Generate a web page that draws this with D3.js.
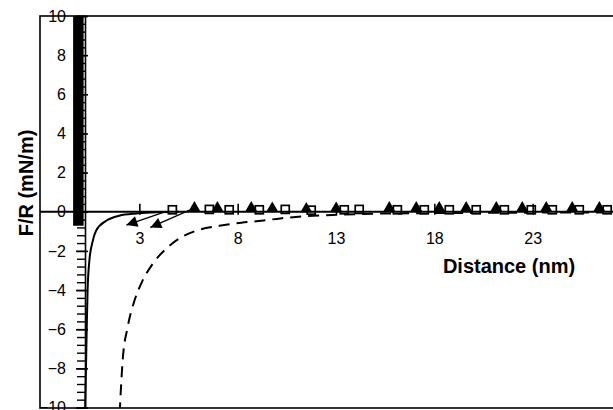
<!DOCTYPE html>
<html>
<head>
<meta charset="utf-8">
<script src="https://cdn.jsdelivr.net/npm/d3@7"></script>
<style>
  body { margin: 0; background: #fff; }
  svg { display: block; font-family: "Liberation Sans", Arial, sans-serif; }
</style>
</head>
<body>
<svg width="613" height="410"></svg>
<script>
// values (distance in nm, F/R in mN/m)
var xTicks = [3, 8, 13, 18, 23];
var yTicks = [-10, -8, -6, -4, -2, 0, 2, 4, 6, 8, 10];

// hard wall at contact
var wallX = [-0.1, -0.1];
var wallY = [10.2, -0.72];

// solid curve
var solidX = [0.24, 0.25, 0.32, 0.37, 0.46, 0.63, 0.8, 1.32, 1.98, 2.85, 3.6, 5];
var solidY = [-10.3, -9.9, -6.2, -4.0, -2.5, -1.5, -0.97, -0.46, -0.2, -0.09, -0.04, 0];

// dashed curve
var dashX = [2.0, 2.15, 2.40, 2.75, 3.09, 3.68, 4.36, 5.12, 5.88, 7.07, 8.19, 9.2, 10.17, 11.39, 13.17, 15, 18, 22, 28];
var dashY = [-10.3, -7.62, -5.92, -4.55, -3.68, -2.66, -1.89, -1.31, -0.97, -0.72, -0.56, -0.46, -0.34, -0.23, -0.15, -0.1, -0.07, -0.05, -0.03];

// open squares
var sqX = [4.68, 6.56, 7.57, 9.10, 10.42, 11.74, 13.42, 14.18, 16.12, 17.49, 18.76, 20.13, 21.56, 22.93, 24.0, 25.37, 26.79];
var sqY = [0.1, 0.12, 0.1, 0.1, 0.12, 0.08, 0.1, 0.12, 0.1, 0.1, 0.1, 0.1, 0.1, 0.1, 0.1, 0.1, 0.1];

// filled triangles
var triX = [5.80, 6.97, 8.69, 9.76, 11.49, 13.01, 15.71, 17.08, 18.25, 19.62, 21.15, 22.47, 23.69, 25.01, 26.39];
var triY = [0.2, 0.2, 0.2, 0.18, 0.15, 0.18, 0.2, 0.2, 0.2, 0.2, 0.2, 0.2, 0.2, 0.2, 0.2];

// two arrows (from -> to)
var arrowFromX = [4.37, 5.64];
var arrowFromY = [0.02, 0.12];
var arrowToX = [2.34, 3.56];
var arrowToY = [-0.68, -0.8];

var svg = d3.select("svg");

var x = d3.scaleLinear().domain([-2, 28]).range([41, 631]);
var y = d3.scaleLinear().domain([-10, 10]).range([407.5, 16]);

var defs = svg.append("defs");
defs.append("clipPath").attr("id", "plot")
  .append("rect").attr("x", 41).attr("y", 16).attr("width", 590).attr("height", 391.5);
defs.append("marker")
  .attr("id", "head")
  .attr("viewBox", "0 0 10 10")
  .attr("refX", 10).attr("refY", 5)
  .attr("markerWidth", 20).attr("markerHeight", 11)
  .attr("markerUnits", "userSpaceOnUse")
  .attr("orient", "auto")
  .append("path").attr("d", "M0,0L10,5L0,10Z").attr("fill", "#000");

// frame
svg.append("rect")
  .attr("x", 40).attr("y", 16)
  .attr("width", 600).attr("height", 392)
  .attr("fill", "none").attr("stroke", "#000").attr("stroke-width", 1.6);

var g = svg.append("g").attr("clip-path", "url(#plot)");

// x axis at y = 0
var xAxis = svg.append("g")
  .attr("transform", "translate(0," + y(0) + ")")
  .call(d3.axisBottom(x).tickValues(xTicks).tickSize(3).tickPadding(18).tickFormat(d3.format("d")));
xAxis.select(".domain").remove();
xAxis.selectAll(".tick line").attr("y1", -8).attr("stroke-width", 1.6);
xAxis.selectAll("text").attr("font-size", 16).attr("fill", "#000");
svg.append("line")
  .attr("x1", 40).attr("x2", 613)
  .attr("y1", y(0)).attr("y2", y(0))
  .attr("stroke", "#000").attr("stroke-width", 2.2);

// y axis, minor ticks first
var yPos = 85;
var minor = d3.range(-10, 10.01, 0.4).map(function (d) { return Math.round(d * 10) / 10; });
var yMinor = svg.append("g")
  .attr("transform", "translate(" + yPos + ",0)")
  .call(d3.axisLeft(y).tickValues(minor).tickSize(8).tickFormat(""));
yMinor.select(".domain").remove();
yMinor.selectAll(".tick line").attr("stroke-width", 1.4);

var yAxis = svg.append("g")
  .attr("transform", "translate(" + yPos + ",0)")
  .call(d3.axisLeft(y).tickValues(yTicks).tickSize(9).tickPadding(10).tickFormat(d3.format("d")));
yAxis.select(".domain").attr("stroke-width", 1.6);
yAxis.selectAll(".tick line").attr("x2", 3).attr("x1", -9).attr("stroke-width", 1.6);
yAxis.selectAll("text").attr("font-size", 16).attr("fill", "#000");

// wall
g.append("line")
  .attr("x1", x(wallX[0])).attr("x2", x(wallX[1]))
  .attr("y1", y(wallY[0])).attr("y2", y(wallY[1]))
  .attr("stroke", "#000").attr("stroke-width", 10.5);

var line = d3.line()
  .x(function (d) { return x(d[0]); })
  .y(function (d) { return y(d[1]); })
  .curve(d3.curveMonotoneX);

g.append("path")
  .datum(d3.zip(solidX, solidY))
  .attr("d", line)
  .attr("fill", "none").attr("stroke", "#000").attr("stroke-width", 2);

g.append("path")
  .datum(d3.zip(dashX, dashY))
  .attr("d", line)
  .attr("fill", "none").attr("stroke", "#000").attr("stroke-width", 2)
  .attr("stroke-dasharray", "11,7");

// arrows
g.selectAll(".arrow")
  .data(d3.range(arrowFromX.length))
  .enter().append("line")
  .attr("class", "arrow")
  .attr("x1", function (i) { return x(arrowFromX[i]); })
  .attr("y1", function (i) { return y(arrowFromY[i]); })
  .attr("x2", function (i) { return x(arrowToX[i]); })
  .attr("y2", function (i) { return y(arrowToY[i]); })
  .attr("stroke", "#000").attr("stroke-width", 1.3)
  .attr("marker-end", "url(#head)");

// markers
g.selectAll(".sq")
  .data(d3.zip(sqX, sqY))
  .enter().append("rect")
  .attr("class", "sq")
  .attr("x", function (d) { return x(d[0]) - 4; })
  .attr("y", function (d) { return y(d[1]) - 4; })
  .attr("width", 8).attr("height", 8)
  .attr("fill", "#fff").attr("stroke", "#000").attr("stroke-width", 1.7);

var tri = d3.symbol().type(d3.symbolTriangle).size(60);
g.selectAll(".tri")
  .data(d3.zip(triX, triY))
  .enter().append("path")
  .attr("class", "tri")
  .attr("transform", function (d) { return "translate(" + x(d[0]) + "," + y(d[1]) + ")"; })
  .attr("d", tri)
  .attr("fill", "#000");

// titles
svg.append("text")
  .attr("x", 509).attr("y", 273)
  .attr("text-anchor", "middle")
  .attr("font-size", 20).attr("font-weight", "bold")
  .text("Distance (nm)");

svg.append("text")
  .attr("transform", "translate(33,183) rotate(-90)")
  .attr("text-anchor", "middle")
  .attr("font-size", 20).attr("font-weight", "bold")
  .text("F/R (mN/m)");
</script>
</body>
</html>
